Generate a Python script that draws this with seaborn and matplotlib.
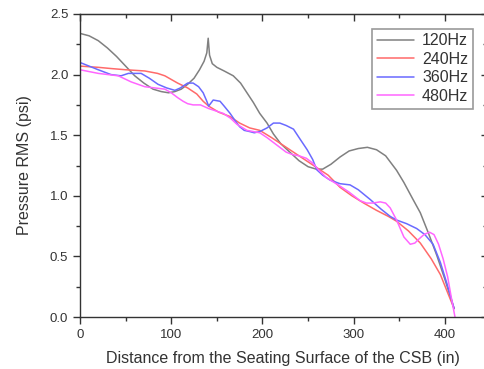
import pandas as pd
import seaborn as sns
import matplotlib.pyplot as plt
from matplotlib.ticker import MultipleLocator

# values
x_120 = [0, 10, 20, 30, 40, 50, 60, 70, 80, 89, 97, 104, 111, 118, 125, 131, 136, 139, 140.5, 142,
         145, 150, 158, 168, 176, 183, 190, 197, 205, 212, 220, 230, 240, 250, 259, 266, 275, 285,
         295, 305, 315, 325, 335, 347, 355, 365, 373, 382, 391, 400, 410]
y_120 = [2.34, 2.32, 2.28, 2.22, 2.15, 2.07, 1.99, 1.93, 1.88, 1.86, 1.85, 1.86, 1.88, 1.92, 1.97,
         2.04, 2.11, 2.18, 2.30, 2.16, 2.09, 2.06, 2.03, 1.99, 1.93, 1.85, 1.77, 1.68, 1.60, 1.51,
         1.43, 1.36, 1.29, 1.24, 1.22, 1.22, 1.26, 1.32, 1.37, 1.39, 1.40, 1.38, 1.33, 1.21, 1.11,
         0.97, 0.86, 0.69, 0.51, 0.31, 0.07]

x_240 = [0, 20, 34, 50, 71, 85, 93, 100, 107, 118, 128, 135, 141, 152, 164, 175, 186, 197, 210,
         220, 230, 240, 250, 260, 272, 285, 298, 311, 325, 338, 347, 360, 373, 385, 395, 403, 410]
y_240 = [2.07, 2.06, 2.05, 2.04, 2.03, 2.01, 1.99, 1.96, 1.93, 1.89, 1.84, 1.78, 1.74, 1.69, 1.655,
         1.60, 1.56, 1.54, 1.48, 1.43, 1.38, 1.33, 1.28, 1.23, 1.17, 1.07, 1.00, 0.94, 0.88, 0.83,
         0.79, 0.71, 0.61, 0.48, 0.35, 0.20, 0.07]

x_360 = [0, 10, 20, 34, 45, 53, 67, 76, 85.5, 95, 104, 110, 118, 124, 130, 135, 139, 141, 143, 146,
         153.5, 158, 164.5, 170, 175, 180, 186, 191, 197, 205, 212, 219, 226, 234, 241, 249, 255,
         259.5, 266, 274, 285, 296, 305, 318, 330, 340, 347, 358, 369, 378, 387, 395, 402, 410]
y_360 = [2.10, 2.07, 2.04, 2.00, 1.99, 2.01, 2.01, 1.97, 1.92, 1.89, 1.87, 1.89, 1.93, 1.93, 1.90,
         1.85, 1.78, 1.74, 1.76, 1.79, 1.78, 1.74, 1.68, 1.62, 1.57, 1.54, 1.53, 1.52, 1.53, 1.56,
         1.60, 1.60, 1.58, 1.55, 1.47, 1.38, 1.30, 1.215, 1.17, 1.13, 1.10, 1.09, 1.05, 0.97, 0.89,
         0.83, 0.80, 0.77, 0.73, 0.68, 0.60, 0.45, 0.28, 0.07]

x_480 = [0, 20, 42, 56, 71, 82, 93, 100, 107, 113, 118, 124, 132, 141, 149, 157, 165, 172, 183, 190,
         197, 205, 212, 219, 226, 233, 240, 248, 255, 262, 270, 285, 295, 307, 314, 321, 329, 335,
         340, 347, 355, 362, 367, 371, 377, 383, 388, 393, 398, 403, 407, 411]
y_480 = [2.04, 2.01, 1.99, 1.94, 1.90, 1.89, 1.88, 1.85, 1.81, 1.78, 1.76, 1.75, 1.75, 1.72, 1.70,
         1.68, 1.64, 1.59, 1.54, 1.53, 1.52, 1.48, 1.44, 1.40, 1.36, 1.34, 1.33, 1.31, 1.27, 1.21,
         1.15, 1.08, 1.03, 0.96, 0.94, 0.94, 0.95, 0.94, 0.90, 0.80, 0.66, 0.60, 0.61, 0.64, 0.68,
         0.70, 0.68, 0.60, 0.48, 0.33, 0.16, 0.0]

labels = ["120Hz", "240Hz", "360Hz", "480Hz"]
colors = ["#808080", "#ff6a6a", "#6a6aff", "#ff66ff"]

frames = []
for lab, xs, ys in zip(labels, [x_120, x_240, x_360, x_480], [y_120, y_240, y_360, y_480]):
    frames.append(pd.DataFrame({"x": xs, "y": ys, "freq": lab}))
df = pd.concat(frames, ignore_index=True)

sns.set_style("ticks")
plt.rcParams['font.family'] = ['Liberation Sans', 'DejaVu Sans']
txt = "#333333"

fig = plt.figure(figsize=(4.85, 3.69), dpi=100)
ax = fig.add_axes([80 / 485, 1 - 317 / 369, 406 / 485, 303 / 369])

sns.lineplot(data=df, x="x", y="y", hue="freq", palette=colors, sort=False,
             estimator=None, linewidth=1.1, ax=ax)

ax.set_xlim(0, 445)
ax.set_ylim(0, 2.5)
ax.xaxis.set_major_locator(MultipleLocator(100))
ax.xaxis.set_minor_locator(MultipleLocator(50))
ax.yaxis.set_major_locator(MultipleLocator(0.5))
ax.yaxis.set_minor_locator(MultipleLocator(0.25))
ax.yaxis.set_major_formatter(plt.FormatStrFormatter("%.1f"))
ax.tick_params(which="major", direction="out", length=5, width=1, labelsize=9.5, colors=txt)
ax.tick_params(which="minor", direction="out", length=3, width=1, colors=txt)
for sp in ax.spines.values():
    sp.set_color(txt)
    sp.set_linewidth(1)

# mirrored ticks on top and right, pointing in
top = ax.secondary_xaxis("top")
top.xaxis.set_major_locator(MultipleLocator(100))
top.xaxis.set_minor_locator(MultipleLocator(50))
top.tick_params(which="both", direction="in", labeltop=False, colors=txt, width=1)
top.tick_params(which="major", length=5)
top.tick_params(which="minor", length=3)
right = ax.secondary_yaxis("right")
right.yaxis.set_major_locator(MultipleLocator(0.5))
right.yaxis.set_minor_locator(MultipleLocator(0.25))
right.tick_params(which="both", direction="in", labelright=False, colors=txt, width=1)

ax.set_xlabel("Distance from the Seating Surface of the CSB (in)", fontsize=11.5, color=txt, labelpad=7)
ax.set_ylabel("Pressure RMS (psi)", fontsize=11.5, color=txt, labelpad=13)

leg = ax.legend(loc="upper right", bbox_to_anchor=(0.968, 0.952), borderaxespad=0,
                fontsize=11.5, handlelength=2.3, labelspacing=0.22, handletextpad=0.5,
                frameon=True, fancybox=False, borderpad=0.3)
leg.get_frame().set_edgecolor("#808080")
leg.get_frame().set_linewidth(1.2)
for t in leg.get_texts():
    t.set_color(txt)

fig.savefig("out.png", dpi=100)
